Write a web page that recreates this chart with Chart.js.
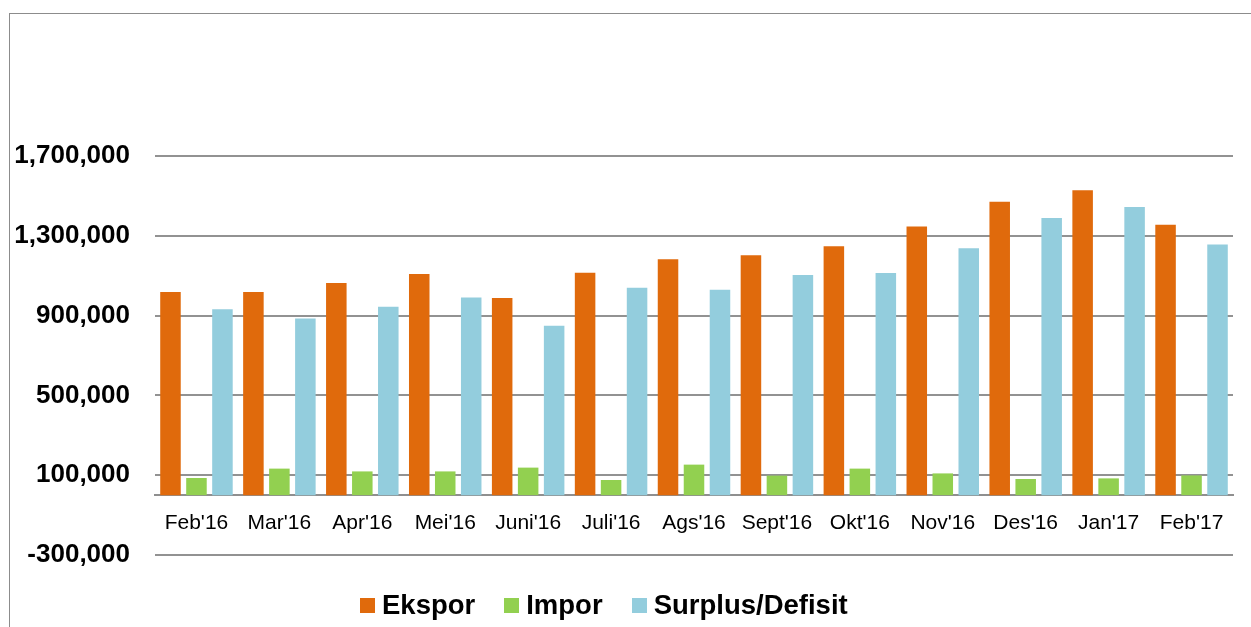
<!DOCTYPE html>
<html>
<head>
<meta charset="utf-8">
<script src="https://cdn.jsdelivr.net/npm/chart.js@4/dist/chart.umd.min.js"></script>
<style>
  html, body { margin: 0; padding: 0; background: #fff; }
  body { width: 1251px; height: 627px; overflow: hidden; position: relative;
         font-family: "Liberation Sans", Arial, sans-serif; }
  .frame { position: absolute; left: 9px; top: 13px; right: -2px; bottom: -2px;
           border-left: 1.5px solid #8c8c8c; border-top: 1.5px solid #8c8c8c; }
  .wrap { position: absolute; left: 0; top: 0; width: 1251px; height: 627px; }
  .legend { position: absolute; left: 360px; top: 590px; display: flex; gap: 29px;
            font-weight: bold; font-size: 27.5px; line-height: 30px; color: #000; }
  .leg-item { display: flex; align-items: center; }
  .leg-sq { width: 15px; height: 15px; margin-right: 7px; display: inline-block; }
</style>
</head>
<body>
<div class="frame"></div>
<div class="wrap"><canvas id="c-trade"></canvas></div>
<div class="legend" id="trade-legend"></div>
<script>
const months  = ["Feb'16", "Mar'16", "Apr'16", "Mei'16", "Juni'16", "Juli'16", "Ags'16",
                 "Sept'16", "Okt'16", "Nov'16", "Des'16", "Jan'17", "Feb'17"];
const ekspor  = [1018000, 1018000, 1063000, 1109000, 988000, 1115000, 1183000,
                 1203000, 1248000, 1346000, 1471000, 1528000, 1356000];
const impor   = [86000, 133000, 119000, 119000, 138000, 76000, 153000,
                 98000, 133000, 109000, 81000, 84000, 99000];
const surplus = [932000, 886000, 944000, 991000, 849000, 1039000, 1029000,
                 1104000, 1114000, 1238000, 1389000, 1444000, 1256000];
const yTicks  = [-300000, 100000, 500000, 900000, 1300000, 1700000];

const SERIES = [
  { label: 'Ekspor',          data: ekspor,  color: '#e06a0c' },
  { label: 'Impor',           data: impor,   color: '#92d050' },
  { label: 'Surplus/Defisit', data: surplus, color: '#93cddd' },
];

document.getElementById('trade-legend').innerHTML =
  SERIES.map(s => `<span class="leg-item"><span class="leg-sq" style="background:${s.color}"></span>${s.label}</span>`).join('');

new Chart(document.getElementById('c-trade'), {
  type: 'bar',
  data: {
    labels: months,
    datasets: SERIES.map(s => ({
      label: s.label, data: s.data, backgroundColor: s.color,
      borderWidth: 0, categoryPercentage: 0.94, barPercentage: 0.79,
    })),
  },
  options: {
    responsive: true, maintainAspectRatio: false, animation: false,
    layout: { padding: { top: 156, right: 18, bottom: 72, left: 0 } },
    plugins: { legend: { display: false }, tooltip: { enabled: false } },
    scales: {
      x: {
        position: { y: 0 },
        grid: { display: false, drawTicks: false },
        border: { display: true, color: '#8f8f8f', width: 2 },
        ticks: { color: '#000', padding: 15, autoSkip: false, maxRotation: 0,
                 font: { family: '"Liberation Sans", Arial', size: 21 } },
      },
      y: {
        min: yTicks[0], max: yTicks[yTicks.length - 1],
        afterBuildTicks: axis => { axis.ticks = yTicks.map(v => ({ value: v })); },
        afterFit: axis => { axis.width = 155; },
        grid: { color: '#929292', lineWidth: 2, drawTicks: false },
        border: { display: false },
        ticks: { color: '#000', padding: 25,
                 font: { family: '"Liberation Sans", Arial', size: 26, weight: 'bold' },
                 callback: v => v.toLocaleString('en-US') },
      },
    },
  },
});
</script>
</body>
</html>
